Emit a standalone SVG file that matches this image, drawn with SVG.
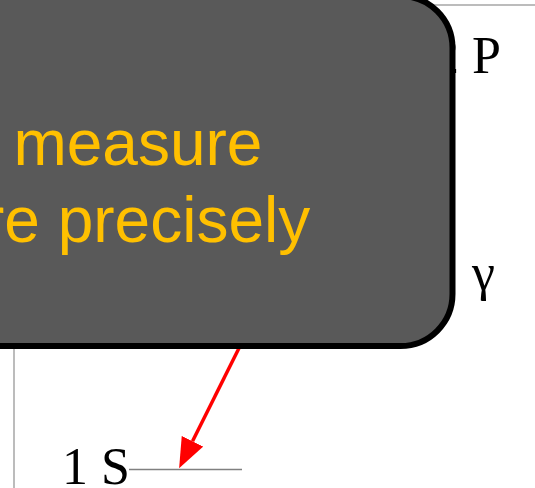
<svg xmlns="http://www.w3.org/2000/svg" width="535" height="488" viewBox="0 0 535 488">
  <defs>
    <style>
      .frame { stroke: #a6a6a6; stroke-width: 1.5; fill: none; }
      .level { stroke: #808080; stroke-width: 1.5; fill: none; }
      .lbl { font-family: "Liberation Serif", "Times New Roman", serif; font-size: 52px; fill: #000000; }
      .call { fill: #595959; stroke: #000000; stroke-width: 6; }
      .calltxt { font-family: "Liberation Sans", Arial, sans-serif; font-size: 64px; fill: #FFC000; }
      .arrow { stroke: #FF0000; stroke-width: 3.5; fill: none; }
    </style>
    <marker id="redhead" markerUnits="userSpaceOnUse" markerWidth="30" markerHeight="24" refX="0" refY="12" orient="auto" viewBox="0 0 30 24">
      <path d="M0,0 L30,12 L0,24 z" fill="#FF0000"/>
    </marker>
  </defs>
  <rect width="535" height="488" fill="#ffffff"/>
  <g id="frame">
    <line class="frame" x1="14" y1="5" x2="535" y2="5"/>
    <line class="frame" x1="14" y1="5" x2="14" y2="488"/>
  </g>
  <g id="level-2P">
    <text class="lbl" x="433" y="73">2 P</text>
  </g>
  <g id="label-gamma">
    <text class="lbl" x="472" y="290">γ</text>
  </g>
  <g id="level-1S">
    <text class="lbl" x="62" y="484">1 S</text>
    <line class="level" x1="129" y1="469.5" x2="242" y2="469.5"/>
  </g>
  <g id="connectors">
    <line class="arrow" x1="270" y1="286" x2="192.5" y2="441.3" marker-end="url(#redhead)"/>
  </g>
  <g id="callout">
    <rect class="call" x="-120" y="-4" width="572.5" height="350" rx="52" ry="52"/>
    <text class="calltxt" x="13.4" y="165">measure</text>
    <text class="calltxt" x="-17" y="242">re precisely</text>
  </g>
</svg>
